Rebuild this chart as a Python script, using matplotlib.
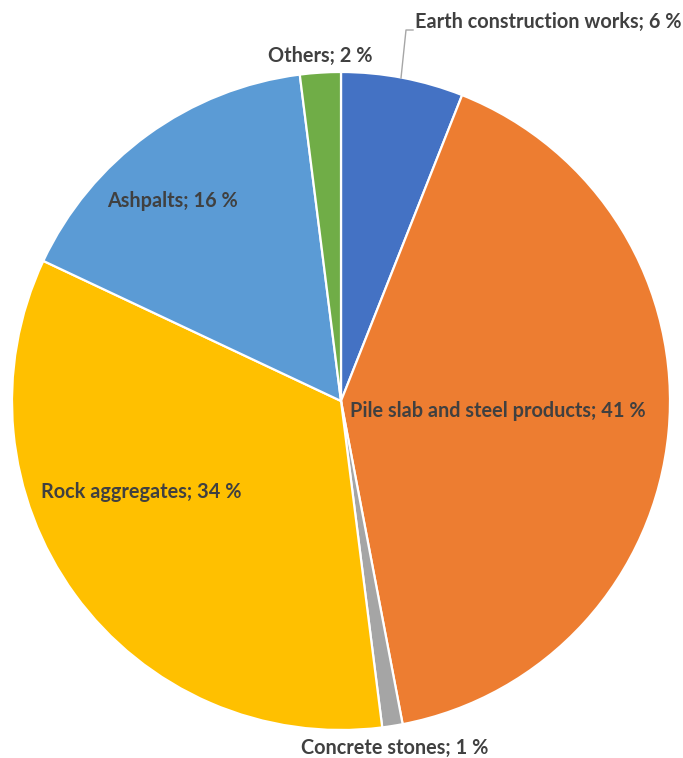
import matplotlib.pyplot as plt

# 建設資材の内訳
categories = ["Earth construction works", "Pile slab and steel products",
              "Concrete stones", "Rock aggregates", "Ashpalts", "Others"]
shares = [6, 41, 1, 34, 16, 2]
colors = ["#4472C4", "#ED7D31", "#A5A5A5", "#FFC000", "#5B9BD5", "#70AD47"]

W, H = 683, 758
fig = plt.figure(figsize=(W / 100, H / 100), dpi=100)
ax = fig.add_axes([0, 0, 1, 1])
ax.set_xlim(0, W)
ax.set_ylim(0, H)
ax.set_aspect("equal")
ax.axis("off")

# 円グラフ（上から時計回り）
cx, cy, r = 341, H - 401, 329
ax.pie(shares, colors=colors, startangle=90, counterclock=False,
       center=(cx, cy), radius=r,
       wedgeprops=dict(edgecolor="white", linewidth=1.6))
ax.set_xlim(0, W)
ax.set_ylim(0, H)

# ラベル位置（ピクセル座標、中心x・中心y）
label_pos = [(548, 22), (498, 411), (395, 748), (141, 492), (172, 201), (320, 56)]
for name, val, (lx, ly) in zip(categories, shares, label_pos):
    ax.text(lx, H - ly, f"{name}; {val} %", ha="center", va="center",
            fontsize=14.3, fontweight="bold", color="#404040",
            family=["Lato", "DejaVu Sans"])

# Earth の引き出し線
ax.plot([401, 406, 413], [H - 78, H - 30, H - 30], color="#A6A6A6", lw=1.0)

fig.savefig("out.png", dpi=100)
